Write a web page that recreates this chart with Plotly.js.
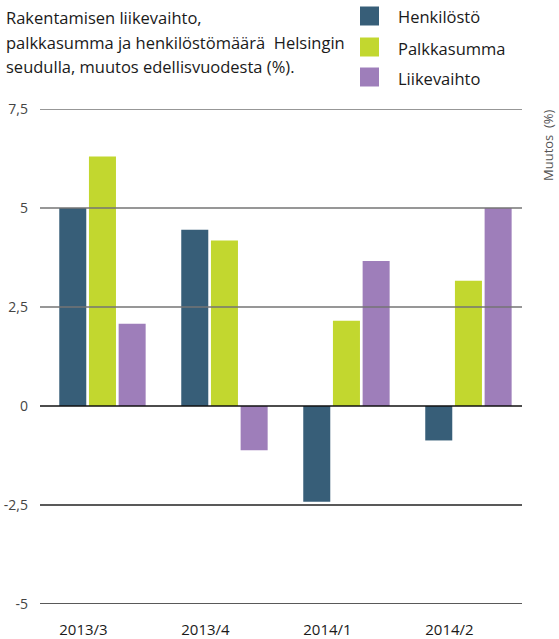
<!DOCTYPE html>
<html><head><meta charset="utf-8">
<script src="https://cdn.plot.ly/plotly-3.0.1.min.js"></script>
<style>body{margin:0;background:#fff}</style>
</head><body><div id="chart" style="width:559px;height:639px"></div>
<script>
const categories = ["2013/3", "2013/4", "2014/1", "2014/2"];
const seriesNames = ["Henkilöstö", "Palkkasumma", "Liikevaihto"];
const henkilosto = [5.0, 4.45, -2.42, -0.87];
const palkkasumma = [6.3, 4.18, 2.15, 3.16];
const liikevaihto = [2.08, -1.12, 3.66, 5.0];
const yTickVals = [-5, -2.5, 0, 2.5, 5, 7.5];
const yTickLabels = ["-5", "-2,5", "0", "2,5", "5", "7,5"];
const titleLines = ["Rakentamisen liikevaihto,", "palkkasumma ja henkilöstömäärä  Helsingin", "seudulla, muutos edellisvuodesta (%)."];
const axisTitle = "Muutos  (%)";

const colors = ["#375e78", "#c2d72f", "#9e7eba"];
const FONT = "Open Sans, Noto Sans, sans-serif";
const W = 559, H = 639, L = 40, R = 522, T = 109, B = 604;
const px = x => (x - L) / (R - L);
const py = y => (B - y) / (B - T);

const values = [henkilosto, palkkasumma, liikevaihto];
const traces = values.map((v, i) => ({
  type: 'bar', name: seriesNames[i], x: categories, y: v,
  marker: {color: colors[i], line: {width: 0}}, showlegend: false, hoverinfo: 'skip'
}));

const shapes = yTickVals.map(v => ({
  type: 'line', xref: 'paper', yref: 'y', x0: 0, x1: 1, y0: v, y1: v, layer: 'above',
  line: {color: v > 0 ? '#747474' : (v === 0 ? '#111' : '#222'), width: 1.6}
}));
const annotations = [];
const legendY = [16, 47, 77];
seriesNames.forEach((n, i) => {
  shapes.push({type: 'rect', xref: 'paper', yref: 'paper', x0: px(360), x1: px(379),
    y0: py(legendY[i] + 9.5), y1: py(legendY[i] - 9.5), fillcolor: colors[i], line: {width: 0}, layer: 'above'});
  annotations.push({xref: 'paper', yref: 'paper', x: px(396), y: py(legendY[i] + 1), xanchor: 'left', yanchor: 'middle',
    text: n, showarrow: false, font: {family: FONT, size: 16.5, color: '#1a1a1a'}});
});
const titleY = [18, 42, 66];
titleLines.forEach((t, i) => {
  annotations.push({xref: 'paper', yref: 'paper', x: px(4), y: py(titleY[i]), xanchor: 'left', yanchor: 'middle',
    text: t, showarrow: false, font: {family: FONT, size: 16.5, color: '#1a1a1a'}});
});
annotations.push({xref: 'paper', yref: 'paper', x: px(548), y: py(145), xanchor: 'center', yanchor: 'middle',
  text: axisTitle, textangle: -90, showarrow: false, font: {family: FONT, size: 13, color: '#555'}});

const layout = {
  width: W, height: H,
  margin: {l: L, r: W - R, t: T, b: H - B, pad: 0},
  paper_bgcolor: '#fff', plot_bgcolor: '#fff',
  showlegend: false,
  barmode: 'group', bargap: 0.27, bargroupgap: 0.09,
  xaxis: {type: 'category', range: [-0.512, 3.439], showgrid: false, zeroline: false, showline: false,
    ticks: '', tickfont: {family: FONT, size: 15, color: '#1a1a1a'}, ticklabelstandoff: 15, ticklabelshift: -19, fixedrange: true},
  yaxis: {range: [-5, 7.5], tickvals: yTickVals, ticktext: yTickLabels, showgrid: false, zeroline: false, showline: false,
    ticks: '', tickfont: {family: FONT, size: 14, color: '#444'}, ticklabelstandoff: 11, fixedrange: true},
  shapes: shapes, annotations: annotations
};
Plotly.newPlot('chart', traces, layout, {staticPlot: true, displayModeBar: false});
</script></body></html>
